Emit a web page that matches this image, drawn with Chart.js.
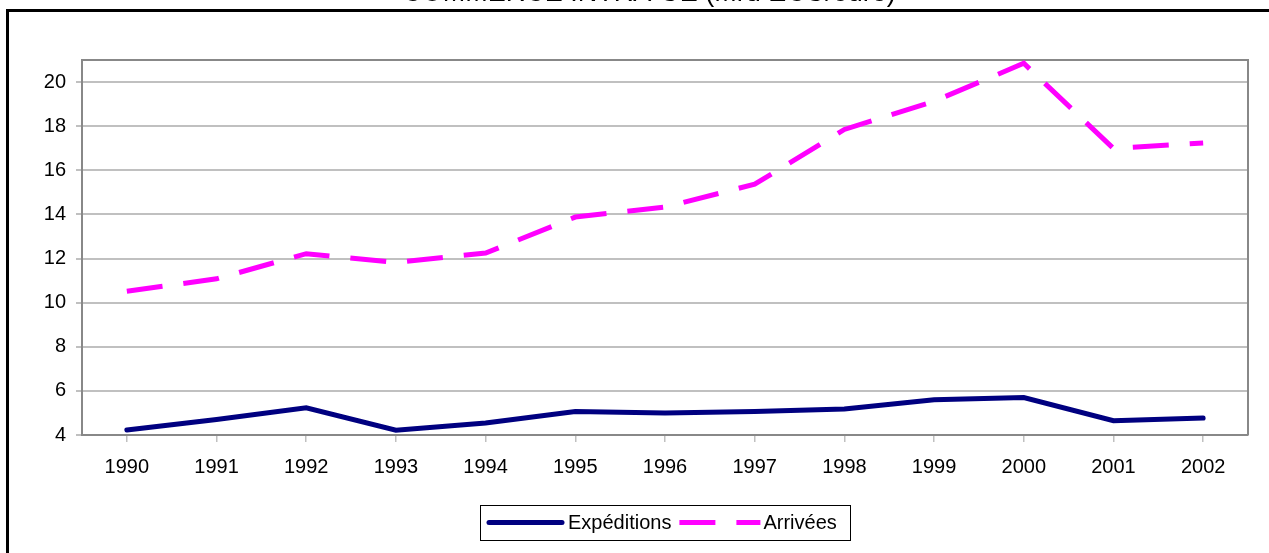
<!DOCTYPE html>
<html>
<head>
<meta charset="utf-8">
<script src="https://cdn.jsdelivr.net/npm/chart.js@4/dist/chart.umd.min.js"></script>
<style>
  body { margin: 0; background: #fff; overflow: hidden; width: 1269px; height: 553px; position: relative; }
  #frame { position: absolute; left: 6px; top: 9px; width: 1300px; height: 600px; border: 3px solid #000; }
  #chart { position: absolute; left: 0; top: -30px; }
</style>
</head>
<body>
<div id="frame"></div>
<canvas id="chart" width="1269" height="583"></canvas>
<script>
// data ........................................................................
const years = ['1990', '1991', '1992', '1993', '1994', '1995', '1996', '1997', '1998', '1999', '2000', '2001', '2002'];
const expeditions = [4.23, 4.7, 5.23, 4.22, 4.54, 5.07, 5.0, 5.07, 5.18, 5.6, 5.7, 4.65, 4.77];
const arrivees = [10.52, 11.08, 12.22, 11.82, 12.25, 13.88, 14.33, 15.37, 17.85, 19.13, 20.85, 16.99, 17.24];
const seriesNames = ['Expéditions', 'Arrivées'];
const titleText = 'COMMERCE INTRA-UE (Mrd ECU/euro)';

const FONT = 'Liberation Sans, Arial, sans-serif';

// title sits a bit right of the canvas centre in the original ................
const titleShift = {
  id: 'titleShift',
  beforeDraw(chart) {
    if (chart.titleBlock) chart.titleBlock.left = 50;
  }
};

// gray frame on top and right of the plot ....................................
const plotBorder = {
  id: 'plotBorder',
  beforeDatasetsDraw(chart) {
    const { ctx, chartArea: a } = chart;
    ctx.save();
    ctx.strokeStyle = '#888';
    ctx.lineWidth = 2;
    ctx.beginPath();
    ctx.moveTo(a.left, a.top);
    ctx.lineTo(a.right, a.top);
    ctx.lineTo(a.right, a.bottom);
    ctx.stroke();
    ctx.restore();
  }
};

// legend box under the axis ..................................................
const boxLegend = {
  id: 'boxLegend',
  afterDraw(chart) {
    const { ctx, chartArea: a } = chart;
    const cx = (a.left + a.right) / 2;
    const left = cx - 185, top = 535, w = 370, h = 35;
    const midY = top + h / 2;
    ctx.save();
    ctx.strokeStyle = '#000';
    ctx.lineWidth = 1;
    ctx.strokeRect(left + 0.5, top + 0.5, w, h);

    ctx.font = '20px ' + FONT;
    ctx.fillStyle = '#000';
    ctx.textBaseline = 'middle';

    const ds = chart.data.datasets;
    // first sample: solid navy
    ctx.strokeStyle = ds[0].borderColor;
    ctx.lineWidth = ds[0].borderWidth;
    ctx.lineCap = 'round';
    ctx.beginPath();
    ctx.moveTo(left + 9, midY);
    ctx.lineTo(left + 82, midY);
    ctx.stroke();
    ctx.fillText(ds[0].label, left + 88, midY + 1);

    // second sample: dashed magenta
    let x = left + 88 + ctx.measureText(ds[0].label).width + 8;
    ctx.strokeStyle = ds[1].borderColor;
    ctx.lineWidth = ds[1].borderWidth;
    ctx.lineCap = 'butt';
    ctx.setLineDash(ds[1].borderDash);
    ctx.beginPath();
    ctx.moveTo(x, midY);
    ctx.lineTo(x + 81, midY);
    ctx.stroke();
    ctx.setLineDash([]);
    ctx.fillText(ds[1].label, x + 84, midY + 1);
    ctx.restore();
  }
};

new Chart(document.getElementById('chart'), {
  type: 'line',
  data: {
    labels: years,
    datasets: [{
      label: seriesNames[0],
      data: expeditions,
      borderColor: '#000080',
      borderWidth: 5,
      borderCapStyle: 'round',
      pointRadius: 0,
      tension: 0,
      clip: false
    }, {
      label: seriesNames[1],
      data: arrivees,
      borderColor: '#ff00ff',
      borderWidth: 5,
      borderDash: [36, 21],
      borderCapStyle: 'butt',
      pointRadius: 0,
      tension: 0,
      clip: false
    }]
  },
  options: {
    responsive: false,
    animation: false,
    devicePixelRatio: 1,
    layout: { padding: { left: 0, right: 21, top: 0, bottom: 68 } },
    plugins: {
      legend: { display: false },
      tooltip: { enabled: false },
      title: {
        display: true,
        text: titleText,
        color: '#000',
        font: { family: FONT, size: 27, weight: 'normal' },
        padding: { top: 7.2, bottom: 50.4 }
      }
    },
    scales: {
      x: {
        offset: true,
        grid: { drawOnChartArea: false, drawTicks: true, tickLength: 7, color: '#c0c0c0', lineWidth: 1.5 },
        border: { color: '#888', width: 2 },
        ticks: { color: '#000', font: { family: FONT, size: 20 }, padding: 13, maxRotation: 0 },
        afterFit(s) { s.height = 50; }
      },
      y: {
        min: 4,
        max: 21,
        grid: { color: '#c0c0c0', lineWidth: 2, tickLength: 6 },
        border: { color: '#888', width: 2 },
        ticks: { stepSize: 2, includeBounds: false, color: '#000', font: { family: FONT, size: 20 }, padding: 10 },
        afterFit(s) { s.width = 82; }
      }
    }
  },
  plugins: [titleShift, plotBorder, boxLegend]
});
</script>
</body>
</html>
